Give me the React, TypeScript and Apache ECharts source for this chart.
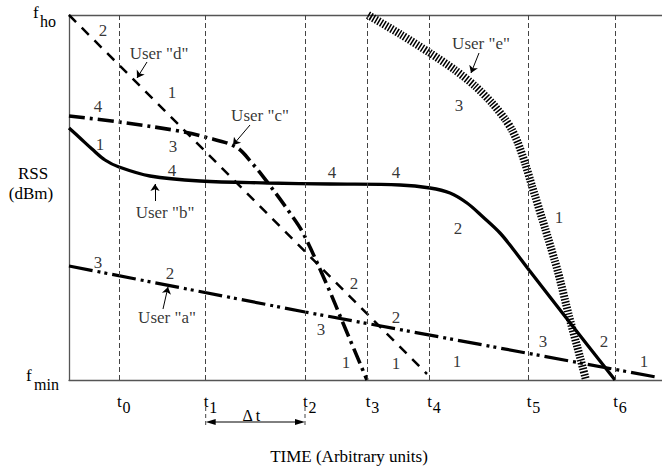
import React, { useEffect, useRef } from "react";
import * as echarts from "echarts";

const FONT = "Liberation Serif";
const X_MAX = 593;
const Y_MAX = 365;

// time markers t0..t6 (arbitrary units along the time axis)
const tickSubs = ["0", "1", "2", "3", "4", "5", "6"];
const tickTimes = [50, 136.7, 236, 298.7, 360.3, 459.7, 546.3];

// RSS curves (arbitrary units, 0 = f_min, 365 = f_ho)
const userA = [[0, 114], [236, 68], [587, 3]];
const userB = [
  [0, 252], [11, 242], [23, 231], [36, 220], [50, 213], [81, 204], [131, 199],
  [199, 197], [261, 196], [331, 195], [361, 192], [381, 187], [398, 177],
  [414, 163], [431, 147], [444, 131], [460, 110], [502, 56], [546, 0],
];
const userC = [
  [0, 264], [50, 258], [110, 249], [136, 243], [167, 233], [183, 217],
  [199, 197], [221, 167], [234, 147], [258, 95], [274, 57], [298, 0],
];
const userD = [[0, 365], [136, 229], [358, 6]];
const userE = [
  [299, 365], [331, 346], [361, 327], [386, 310], [406, 294], [423, 277],
  [436, 261], [443, 250], [449, 237], [456, 217], [463, 194], [476, 152],
  [489, 108], [500, 64], [511, 23], [517, 0],
];

// state numbers written along the curves
const stateLabels: [number, number, string][] = [
  [34, 350, "2"], [103, 288, "1"], [29, 274, "4"], [31, 236, "1"], [104, 234, "3"],
  [103, 210, "4"], [263, 208, "4"], [327, 208, "4"], [390, 275, "3"], [490, 163, "1"],
  [389, 152, "2"], [29, 118, "3"], [101, 107, "2"], [252, 51, "3"], [285, 97, "2"],
  [327, 63, "2"], [277, 18, "1"], [327, 17, "1"], [388, 19, "1"], [474, 39, "3"],
  [535, 39, "2"], [575, 19, "1"],
];

const userNames: [number, number, string][] = [
  [90, 327, 'User "d"'], [191, 265, 'User "c"'], [96, 168, 'User "b"'],
  [412, 337, 'User "e"'], [98, 63, 'User "a"'],
];
const userArrows: number[][][] = [
  [[78, 318], [68, 302]],
  [[181, 255], [164, 235]],
  [[86, 179], [86, 196]],
  [[410, 327], [402, 307]],
  [[94, 71], [99, 93]],
];

const curve = (data: number[][], width: number, type: any, smooth: number | boolean) => ({
  type: "line",
  data,
  smooth,
  showSymbol: false,
  symbol: "none",
  silent: true,
  lineStyle: { color: "#000", width, type, cap: "butt" },
});

function textEl(text: string, x: number, y: number, size: number, align = "left") {
  return {
    type: "text",
    silent: true,
    style: {
      text, x, y, fill: "#000", fontSize: size, fontFamily: FONT,
      align, textAlign: align, verticalAlign: "middle", textVerticalAlign: "middle",
    },
  };
}

export default function App() {
  const ref = useRef<HTMLDivElement>(null);
  useEffect(() => {
    document.body.style.margin = "0";
    const chart = echarts.init(ref.current!, null, { renderer: "svg" });
    const axisLine = { show: true, onZero: false, lineStyle: { color: "#555", width: 1.3 } };
    const option: any = {
      animation: false,
      backgroundColor: "#fff",
      textStyle: { fontFamily: FONT },
      grid: { left: 69, top: 15, right: 0, bottom: 88 },
      xAxis: [
        { type: "value", min: 0, max: X_MAX, position: "bottom", axisLine, axisTick: { show: false }, axisLabel: { show: false }, splitLine: { show: false } },
        { type: "value", min: 0, max: X_MAX, position: "top", axisLine, axisTick: { show: false }, axisLabel: { show: false }, splitLine: { show: false } },
      ],
      yAxis: { type: "value", min: 0, max: Y_MAX, axisLine, axisTick: { show: false }, axisLabel: { show: false }, splitLine: { show: false } },
      series: [
        {
          type: "line",
          data: [],
          silent: true,
          markLine: {
            silent: true,
            symbol: "none",
            label: { show: false },
            lineStyle: { color: "#444", width: 1, type: [5, 3] },
            data: tickTimes.map((t) => ({ xAxis: t })),
          },
        },
        curve(userA, 3.2, [24, 5, 3, 4, 3, 5], false),
        curve(userD, 2.5, [10, 8], false),
        curve(userC, 3.6, [16, 5, 3, 5], 0.35),
        curve(userB, 3.3, "solid", 0.35),
        curve(userE, 8, [1.5, 1.5], 0.25),
        {
          type: "scatter",
          symbolSize: 1,
          silent: true,
          itemStyle: { color: "rgba(0,0,0,0)" },
          data: stateLabels.map((d) => ({ value: [d[0], d[1]], name: d[2] })),
          label: { show: true, position: "inside", formatter: "{b}", color: "#000", fontSize: 17, fontFamily: FONT },
        },
        {
          type: "scatter",
          symbolSize: 1,
          silent: true,
          itemStyle: { color: "rgba(0,0,0,0)" },
          data: userNames.map((d) => ({ value: [d[0], d[1]], name: d[2] })),
          label: { show: true, position: "inside", formatter: "{b}", color: "#000", fontSize: 17, fontFamily: FONT },
        },
        {
          type: "lines",
          coordinateSystem: "cartesian2d",
          silent: true,
          symbol: ["none", "arrow"],
          symbolSize: 7,
          lineStyle: { color: "#000", width: 1, opacity: 1 },
          data: userArrows.map((c) => ({ coords: c })),
        },
      ],
    };
    chart.setOption(option);

    const px = (x: number, y: number) => chart.convertToPixel({ gridIndex: 0 }, [x, y]) as number[];
    const [leftX, bottomY] = px(0, 0);
    const topY = px(0, Y_MAX)[1];
    const g: any[] = [];
    tickTimes.forEach((t, i) => {
      const x = px(t, 0)[0];
      g.push(textEl("t", x - 2, bottomY + 21, 17));
      g.push(textEl(tickSubs[i], x + 3.5, bottomY + 27, 16));
    });
    g.push(textEl("f", leftX - 36, topY - 3, 17));
    g.push(textEl("ho", leftX - 29, topY + 6, 16));
    g.push(textEl("f", leftX - 43, bottomY - 5, 17));
    g.push(textEl("min", leftX - 35, bottomY + 4, 16));
    g.push(textEl("RSS", leftX - 36, bottomY - 207, 17, "center"));
    g.push(textEl("(dBm)", leftX - 38, bottomY - 187, 17, "center"));
    g.push(textEl("TIME (Arbitrary units)", leftX + 280, bottomY + 76, 17, "center"));

    // delta-t between t1 and t2
    const x1 = px(tickTimes[1], 0)[0];
    const x2 = px(tickTimes[2], 0)[0];
    const ay = bottomY + 42;
    g.push({ type: "line", silent: true, shape: { x1: x1 + 6, y1: ay, x2: x2 - 6, y2: ay }, style: { stroke: "#000", lineWidth: 1 } });
    g.push({ type: "polygon", silent: true, shape: { points: [[x1, ay], [x1 + 10, ay - 3], [x1 + 10, ay + 3]] }, style: { fill: "#000" } });
    g.push({ type: "polygon", silent: true, shape: { points: [[x2, ay], [x2 - 10, ay - 3], [x2 - 10, ay + 3]] }, style: { fill: "#000" } });
    [x1, x2].forEach((x) =>
      g.push({ type: "line", silent: true, shape: { x1: x, y1: bottomY + 27, x2: x, y2: bottomY + 45 }, style: { stroke: "#444", lineWidth: 1, lineDash: [4, 3] } })
    );
    g.push(textEl("\u0394 t", (x1 + x2) / 2 - 4, bottomY + 35, 16, "center"));
    chart.setOption({ graphic: g });

    return () => chart.dispose();
  }, []);
  return <div ref={ref} style={{ width: 662, height: 468 }} />;
}
